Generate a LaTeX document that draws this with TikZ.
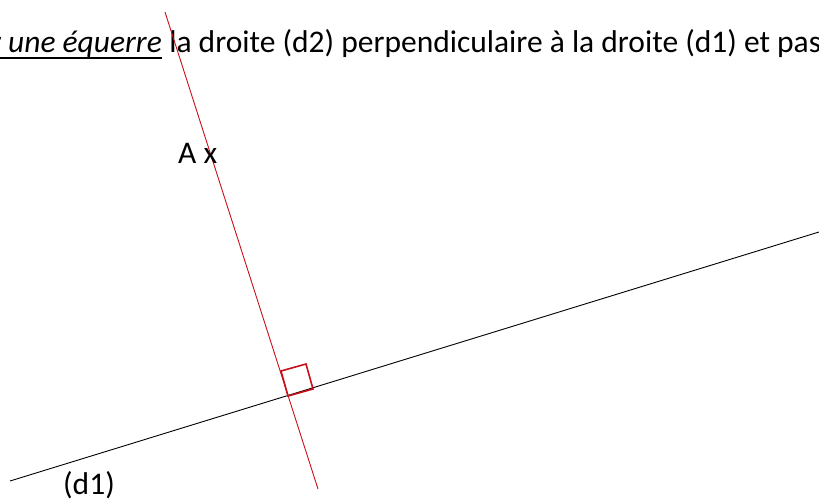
\documentclass[tikz,border=0pt]{standalone}
\usepackage{fontspec}
\setmainfont{Carlito}
\usetikzlibrary{calc}
\definecolor{redline}{RGB}{200,16,24}
\begin{document}
\begin{tikzpicture}[x=1pt,y=-1pt,
  txt/.style={anchor=base west,inner sep=0pt,font=\fontsize{31.5}{37}\selectfont},
  dline/.style={line width=0.9pt},
  rline/.style={line width=0.9pt,draw=redline},
  rsq/.style={line width=1.6pt,draw=redline,line join=miter}]
\useasboundingbox (0,0) rectangle (819,500);
\clip (0,0) rectangle (819,500);
% title text
\node[txt,anchor=base east] (t1) at (162,53) {\textit{r une équerre}};
\node[txt] (t2) at (t1.base east) {\ la droite (d2) perpendiculaire à la droite (d1) et pas};
\draw[line width=2pt] ($(t1.base west)+(0,5)$) -- ($(t1.base east)+(0,5)$);
% lines
\coordinate (d1a) at (10,481);
\coordinate (d1b) at (819,232);
\coordinate (d2a) at (165,12);
\coordinate (d2b) at (318,489);
\coordinate (I) at (288,396);
\draw[dline] (d1a) -- (d1b);
\draw[rline] (d2a) -- (d2b);
% right angle mark
\draw[rsq] (I) -- ($(I)+(-7,-25)$) -- ($(I)+(18,-32)$) -- ($(I)+(25,-7)$) -- cycle;
% labels
\node[txt] (A) at (178,164) {A x};
\node[txt] (d1) at (63,494) {(d1)};
\end{tikzpicture}
\end{document}
